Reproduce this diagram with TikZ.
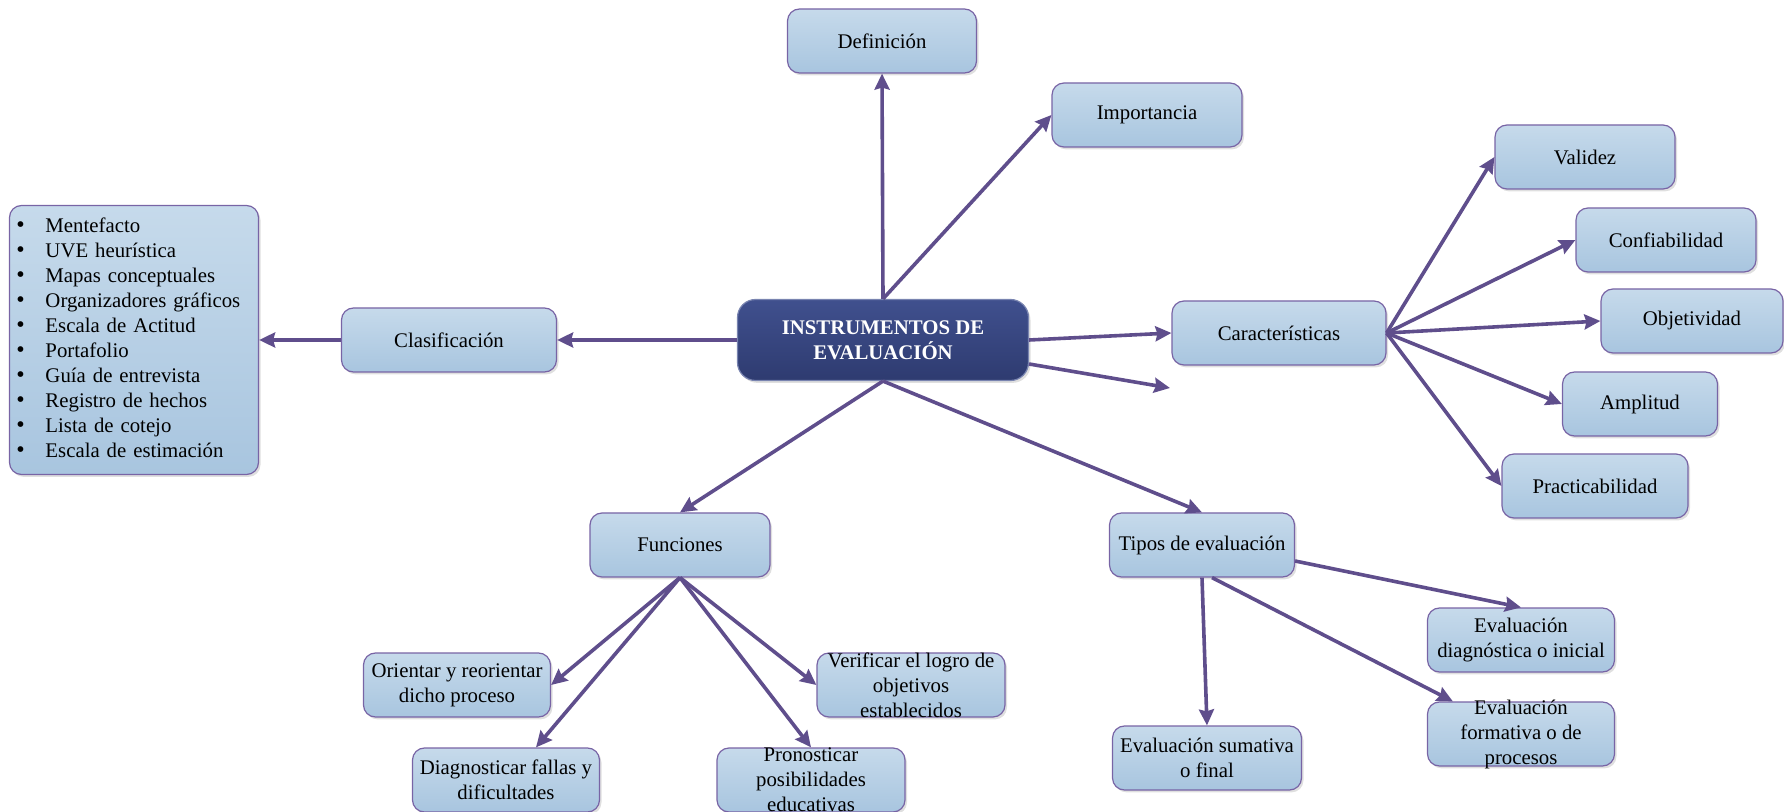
\documentclass[tikz,border=0pt]{standalone}
\usepackage{fontspec}
\setmainfont{Liberation Serif}
\usetikzlibrary{arrows.meta,shadows}

\definecolor{boxtop}{RGB}{198,218,235}
\definecolor{boxbot}{RGB}{168,197,223}
\definecolor{boxline}{RGB}{120,100,165}
\definecolor{linkcol}{RGB}{95,78,140}
\definecolor{maintop}{RGB}{64,80,142}
\definecolor{mainbot}{RGB}{46,59,112}

\begin{document}
\begin{tikzpicture}[x=0.5pt,y=-0.5pt,
  font=\fontsize{10.4}{12.5}\selectfont,
  box/.style={draw=boxline,line width=0.6pt,rounded corners=6pt,
    top color=boxtop,bottom color=boxbot,
    drop shadow={shadow xshift=1pt,shadow yshift=-1.2pt,opacity=0.25},
    align=center,minimum width=#1,minimum height=32pt,inner sep=2pt},
  box/.default=90pt,
  main/.style={draw=maintop!70!white,line width=0.6pt,rounded corners=9pt,
    top color=maintop,bottom color=mainbot,text=white,font=\fontsize{10.4}{12.5}\selectfont\bfseries,
    drop shadow={shadow xshift=1pt,shadow yshift=-1.2pt,opacity=0.25},
    align=center,minimum width=145.5pt,minimum height=40.5pt},
  link/.style={draw=linkcol,line width=1.8pt,-{Stealth[length=8pt,width=7.5pt,inset=1pt]}}]
  \useasboundingbox (0,0) rectangle (1784,812);

  % centre
  \node[main] (ins) at (883,340) {INSTRUMENTOS DE\\EVALUACIÓN};

  % top
  \node[box=94.5pt] (def) at (882,41) {Definición};
  \node[box=95pt] (imp) at (1147,115) {Importancia};

  % left
  \node[box=107.5pt] (cla) at (449,340) {Clasificación};
  \node[box=124.5pt,minimum height=134.5pt,text width=117.5pt,align=left,inner xsep=3.5pt] (lst) at (134,340) {%
    \begin{tabular}{@{}p{14.5pt}@{}l@{}}
      {\large\textbullet} & Mentefacto\\
      {\large\textbullet} & UVE heurística\\
      {\large\textbullet} & Mapas conceptuales\\
      {\large\textbullet} & Organizadores gráficos\\
      {\large\textbullet} & Escala de Actitud\\
      {\large\textbullet} & Portafolio\\
      {\large\textbullet} & Guía de entrevista\\
      {\large\textbullet} & Registro de hechos\\
      {\large\textbullet} & Lista de cotejo\\
      {\large\textbullet} & Escala de estimación
    \end{tabular}};

  % right
  \node[box=107pt] (car) at (1279,333) {Características};
  \node[box=90pt] (val) at (1585,157) {Validez};
  \node[box=90pt] (con) at (1666,240) {Confiabilidad};
  \node[box=91pt] (obj) at (1692,321) {Objetividad};
  \node[box=77.5pt] (amp) at (1640,404) {Amplitud};
  \node[box=93pt] (pra) at (1595,486) {Practicabilidad};
  \coordinate (open) at (1170,388);

  % bottom left
  \node[box=90pt] (fun) at (680,545) {Funciones};
  \node[box=93.5pt] (ori) at (457,685) {Orientar y reorientar\\dicho proceso};
  \node[box=93.5pt] (dia) at (506,780) {Diagnosticar fallas y\\dificultades};
  \node[box=94pt,inner ysep=-3pt] (ver) at (911,685) {Verificar el logro de\\objetivos\\establecidos};
  \node[box=94pt,inner ysep=-3pt] (pro) at (811,780) {Pronosticar\\posibilidades\\educativas};

  % bottom right
  \node[box=92.5pt] (tip) at (1202,545) {Tipos de evaluación};
  \node[box=94.5pt] (sum) at (1207,758) {Evaluación sumativa\\o final};
  \node[box=93.5pt] (dgn) at (1521,640) {Evaluación\\diagnóstica o inicial};
  \node[box=93.5pt,inner ysep=-3pt] (for) at (1521,734) {Evaluación\\formativa o de\\procesos};

  % links
  \draw[link] (ins.north) -- (def.south);
  \draw[link] (ins.north) -- (imp.west);
  \draw[link] (ins.west) -- (cla.east);
  \draw[link] (cla.west) -- (lst.east);
  \draw[link] (ins.east) -- (car.west);
  \draw[link] ([yshift=-12pt]ins.east) -- (open);
  \draw[link] (ins.south) -- (fun.north);
  \draw[link] (ins.south) -- (tip.north);
  \draw[link] (car.east) -- (val.west);
  \draw[link] (car.east) -- (con.west);
  \draw[link] (car.east) -- (obj.west);
  \draw[link] (car.east) -- (amp.west);
  \draw[link] (car.east) -- (pra.west);
  \draw[link] (fun.south) -- (ori.east);
  \draw[link] (fun.south) -- ([xshift=15pt]dia.north);
  \draw[link] (fun.south) -- (pro.north);
  \draw[link] (fun.south) -- (ver.west);
  \draw[link] (tip.south) -- (sum.north);
  \draw[link] ([xshift=5pt]tip.south) -- ([xshift=13pt]for.north west);
  \draw[link] ([yshift=-8pt]tip.east) -- (dgn.north);
\end{tikzpicture}
\end{document}
